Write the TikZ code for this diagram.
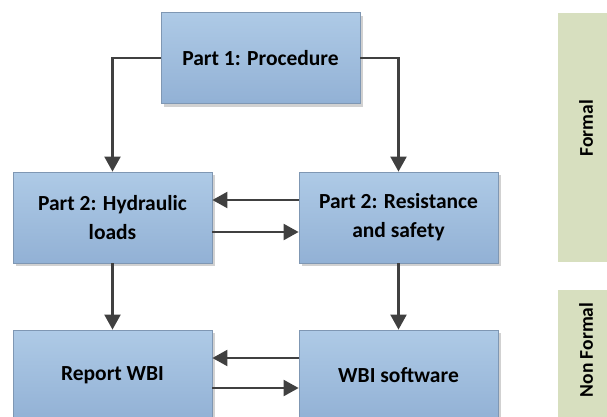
\documentclass[tikz,border=0pt]{standalone}
\usepackage{fontspec}
\setmainfont{Carlito}
\usetikzlibrary{arrows.meta,shadows}
\definecolor{boxtop}{HTML}{AECAE6}
\definecolor{boxbot}{HTML}{92B1D5}
\definecolor{boxline}{HTML}{7F97B3}
\definecolor{bandfill}{HTML}{D7DFBF}
\definecolor{arrowgray}{HTML}{404040}
\tikzset{
  x=1pt, y=-1pt,
  stagebox/.style={draw=boxline, line width=0.8pt, top color=boxtop, bottom color=boxbot,
    minimum width=199pt, minimum height=91pt, align=center, inner sep=0pt,
    font=\fontsize{21.5}{29}\selectfont\bfseries, text=black,
    drop shadow={shadow xshift=3pt, shadow yshift=-3pt, fill=black, opacity=0.18}},
  band/.style={fill=bandfill, draw=none},
  bandlabel/.style={rotate=90, font=\fontsize{19.5}{23}\selectfont\bfseries, text=black},
  flow/.style={draw=arrowgray, line width=2.2pt, -{Triangle[length=15pt,width=16pt]}}
}
\begin{document}
\begin{tikzpicture}
\useasboundingbox (0,0) rectangle (607,416);
% category bands
\fill[band] (558,13) rectangle (620,262);
\fill[band] (558,290) rectangle (620,430);
\node[bandlabel] (formal) at (586,128) {Formal};
\node[bandlabel] (nonformal) at (586,350) {Non Formal};
% stages
\node[stagebox] (proc) at (260.5,58) {Part 1: Procedure};
\node[stagebox] (hyd) at (112.5,217.5) {Part 2: Hydraulic\\loads};
\node[stagebox] (res) at (398.5,217.5) {Part 2: Resistance\\and safety};
\node[stagebox] (rep) at (112.5,375.5) {Report WBI};
\node[stagebox] (soft) at (398.5,375.5) {WBI software};
% connectors (yshift is on the page: positive moves up)
\draw[flow] (proc.west) -| (hyd.north);
\draw[flow] (proc.east) -| (res.north);
\draw[flow] ([yshift=17.5pt]res.west) -- ([yshift=17.5pt]hyd.east);
\draw[flow] ([yshift=-14.5pt]hyd.east) -- ([yshift=-14.5pt]res.west);
\draw[flow] (hyd.south) -- (rep.north);
\draw[flow] (res.south) -- (soft.north);
\draw[flow] ([yshift=17.5pt]soft.west) -- ([yshift=17.5pt]rep.east);
\draw[flow] ([yshift=-12.5pt]rep.east) -- ([yshift=-12.5pt]soft.west);
\end{tikzpicture}
\end{document}
